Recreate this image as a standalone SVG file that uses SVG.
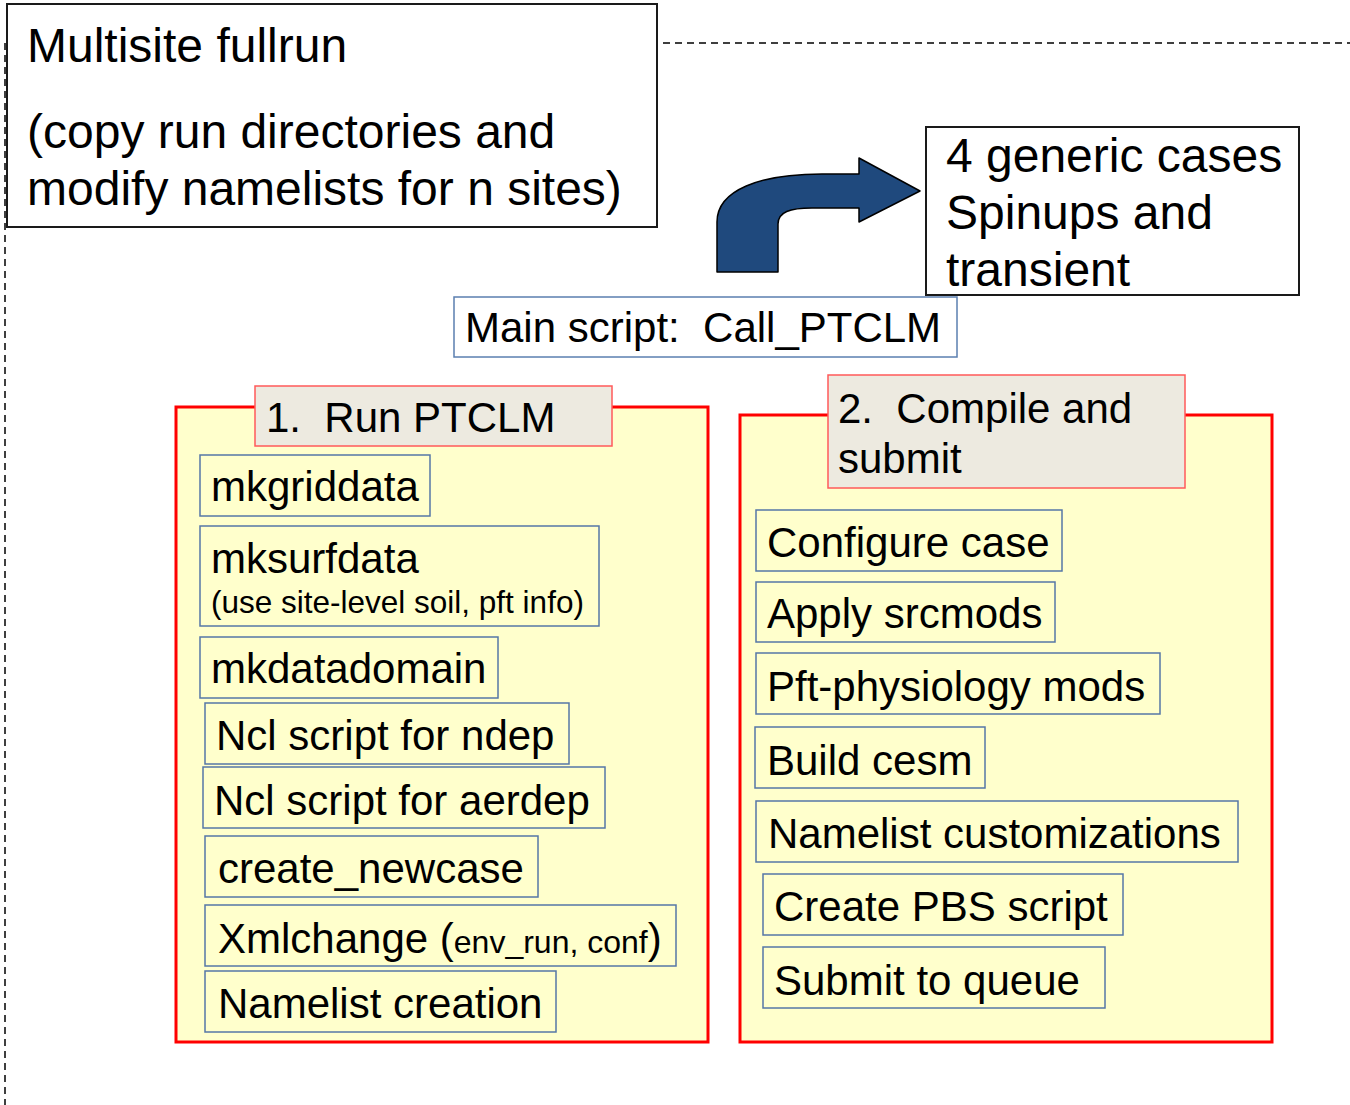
<svg xmlns="http://www.w3.org/2000/svg" width="1350" height="1105" viewBox="0 0 1350 1105">
  <style>
    text { font-family: "Liberation Sans", Arial, sans-serif; fill: #000; }
    .big { font-size: 48px; }
    .lbl { font-size: 42px; }
    .small { font-size: 31.5px; }
    .plain { fill: #fff; stroke: #1a1a1a; stroke-width: 2; }
    .main { fill: #fff; stroke: #5b7fb0; stroke-width: 1.5; }
    .panel { fill: #ffffcc; stroke: #ff0000; stroke-width: 3; }
    .title { fill: #edeae0; stroke: #ff5a5a; stroke-width: 1.5; }
    .item { fill: #ffffcc; stroke: #5677a6; stroke-width: 1.5; }
    .dash { fill: none; stroke: #000; stroke-width: 1.5; stroke-dasharray: 7 5; }
  </style>

  <!-- connectors -->
  <g id="connectors">
    <path class="dash" d="M663,43 H1350"/>
    <path class="dash" d="M5,43 V1105"/>
    <path d="M717,272 V222 C717,190 760,174 822,174 H859 V158 L920,191 L859,222 V208 H812 C790,208 778,212 778,224 V272 Z" fill="#1f497d" stroke="#000" stroke-width="1.5" stroke-linejoin="round"/>
  </g>

  <g id="fullrun">
    <rect class="plain" x="7" y="4" width="650" height="223"/>
    <text class="big" x="27" y="62">Multisite fullrun</text>
    <text class="big" x="27" y="148">(copy run directories and</text>
    <text class="big" x="27" y="205">modify namelists for n sites)</text>
  </g>

  <g id="generic-cases">
    <rect class="plain" x="926" y="127" width="373" height="168"/>
    <text class="big" x="946" y="172">4 generic cases</text>
    <text class="big" x="946" y="229">Spinups and</text>
    <text class="big" x="946" y="286">transient</text>
  </g>

  <g id="main-script">
    <rect class="main" x="454" y="297" width="503" height="60"/>
    <text class="lbl" x="465" y="342" xml:space="preserve">Main script:  Call_PTCLM</text>
  </g>

  <!-- stage 1 -->
  <g id="run-ptclm">
    <rect class="panel" x="176" y="407" width="532" height="635"/>
    <rect class="title" x="255" y="386" width="357" height="60"/>
    <text class="lbl" x="266" y="432" xml:space="preserve">1.  Run PTCLM</text>
  </g>
  <g id="mkgriddata">
    <rect class="item" x="200" y="455" width="230" height="61"/>
    <text class="lbl" x="211" y="501">mkgriddata</text>
  </g>
  <g id="mksurfdata">
    <rect class="item" x="200" y="526" width="399" height="100"/>
    <text class="lbl" x="211" y="573">mksurfdata</text>
    <text class="small" x="211" y="613">(use site-level soil, pft info)</text>
  </g>
  <g id="mkdatadomain">
    <rect class="item" x="200" y="637" width="298" height="61"/>
    <text class="lbl" x="211" y="683">mkdatadomain</text>
  </g>
  <g id="ncl-ndep">
    <rect class="item" x="205" y="703" width="364" height="61"/>
    <text class="lbl" x="216" y="750">Ncl script for ndep</text>
  </g>
  <g id="ncl-aerdep">
    <rect class="item" x="203" y="767" width="402" height="61"/>
    <text class="lbl" x="214" y="815">Ncl script for aerdep</text>
  </g>
  <g id="create-newcase">
    <rect class="item" x="205" y="836" width="333" height="61"/>
    <text class="lbl" x="218" y="883">create_newcase</text>
  </g>
  <g id="xmlchange">
    <rect class="item" x="205" y="905" width="471" height="61"/>
    <text class="lbl" x="218" y="953">Xmlchange (<tspan style="font-size:32px">env_run, conf</tspan>)</text>
  </g>
  <g id="namelist-creation">
    <rect class="item" x="205" y="971" width="351" height="61"/>
    <text class="lbl" x="218" y="1018">Namelist creation</text>
  </g>

  <!-- stage 2 -->
  <g id="compile-submit">
    <rect class="panel" x="740" y="415" width="532" height="627"/>
    <rect class="title" x="828" y="375" width="357" height="113"/>
    <text class="lbl" x="838" y="423" xml:space="preserve">2.  Compile and</text>
    <text class="lbl" x="838" y="473">submit</text>
  </g>
  <g id="configure-case">
    <rect class="item" x="756" y="510" width="306" height="61"/>
    <text class="lbl" x="767" y="557">Configure case</text>
  </g>
  <g id="apply-srcmods">
    <rect class="item" x="756" y="582" width="299" height="60"/>
    <text class="lbl" x="767" y="628">Apply srcmods</text>
  </g>
  <g id="pft-mods">
    <rect class="item" x="756" y="653" width="404" height="61"/>
    <text class="lbl" x="767" y="701">Pft-physiology mods</text>
  </g>
  <g id="build-cesm">
    <rect class="item" x="755" y="727" width="230" height="61"/>
    <text class="lbl" x="767" y="775">Build cesm</text>
  </g>
  <g id="namelist-custom">
    <rect class="item" x="756" y="801" width="482" height="61"/>
    <text class="lbl" x="768" y="848">Namelist customizations</text>
  </g>
  <g id="pbs-script">
    <rect class="item" x="763" y="874" width="360" height="61"/>
    <text class="lbl" x="774" y="921">Create PBS script</text>
  </g>
  <g id="submit-queue">
    <rect class="item" x="763" y="947" width="342" height="61"/>
    <text class="lbl" x="774" y="995">Submit to queue</text>
  </g>
</svg>
